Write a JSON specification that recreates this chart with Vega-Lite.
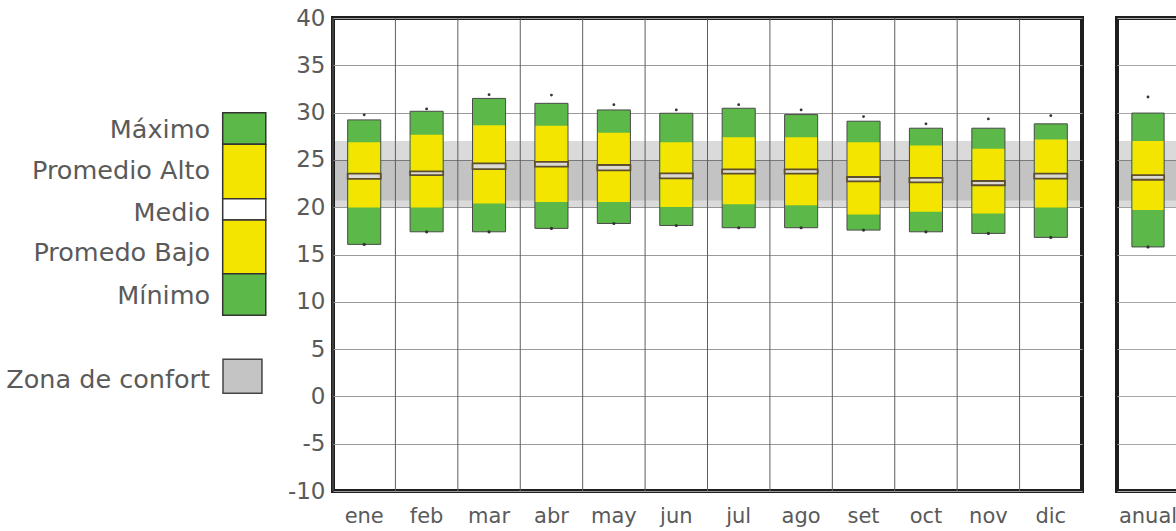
{
  "$schema": "https://vega.github.io/schema/vega-lite/v6.json",
  "background": "white",
  "padding": {"left": 5, "top": 5, "right": 0, "bottom": 0},
  "bounds": "flush",
  "spacing": 35,
  "config": {
    "view": {"stroke": "#1e1e1e", "strokeWidth": 4},
    "font": "DejaVu Sans",
    "axis": {"labelFont": "DejaVu Sans", "labelColor": "#5a5a5a", "domain": false, "ticks": false}
  },
  "datasets": {
    "meses": [
      {"mes": "ene", "min": 16.07, "pbajo": 19.97, "medlo": 23.0, "medhi": 23.55, "palto": 26.87, "max": 29.23, "absmax": 29.76},
      {"mes": "feb", "min": 17.4, "pbajo": 19.97, "medlo": 23.4, "medhi": 23.79, "palto": 27.65, "max": 30.14, "absmax": 30.39},
      {"mes": "mar", "min": 17.4, "pbajo": 20.39, "medlo": 24.03, "medhi": 24.63, "palto": 28.67, "max": 31.5, "absmax": 31.9},
      {"mes": "abr", "min": 17.76, "pbajo": 20.56, "medlo": 24.28, "medhi": 24.8, "palto": 28.6, "max": 30.98, "absmax": 31.85},
      {"mes": "may", "min": 18.28, "pbajo": 20.56, "medlo": 23.9, "medhi": 24.46, "palto": 27.86, "max": 30.28, "absmax": 30.84},
      {"mes": "jun", "min": 18.07, "pbajo": 20.03, "medlo": 23.05, "medhi": 23.58, "palto": 26.87, "max": 29.93, "absmax": 30.28},
      {"mes": "jul", "min": 17.83, "pbajo": 20.32, "medlo": 23.55, "medhi": 24.0, "palto": 27.4, "max": 30.46, "absmax": 30.84},
      {"mes": "ago", "min": 17.83, "pbajo": 20.21, "medlo": 23.55, "medhi": 24.0, "palto": 27.4, "max": 29.79, "absmax": 30.28},
      {"mes": "set", "min": 17.58, "pbajo": 19.23, "medlo": 22.74, "medhi": 23.19, "palto": 26.87, "max": 29.09, "absmax": 29.58},
      {"mes": "oct", "min": 17.4, "pbajo": 19.51, "medlo": 22.63, "medhi": 23.09, "palto": 26.53, "max": 28.35, "absmax": 28.81},
      {"mes": "nov", "min": 17.23, "pbajo": 19.33, "medlo": 22.32, "medhi": 22.77, "palto": 26.18, "max": 28.35, "absmax": 29.33},
      {"mes": "dic", "min": 16.81, "pbajo": 19.97, "medlo": 23.02, "medhi": 23.55, "palto": 27.16, "max": 28.81, "absmax": 29.68}
    ],
    "anual": [
      {"mes": "anual", "min": 15.8, "pbajo": 19.7, "medlo": 22.9, "medhi": 23.4, "palto": 27.0, "max": 29.95, "absmax": 31.65}
    ],
    "zona": [
      {"nivel": "amplia", "lo": 20.0, "hi": 27.0},
      {"nivel": "estricta", "lo": 20.7, "hi": 24.95}
    ],
    "leyenda": [
      {"parte": "max", "etiqueta": "Máximo", "desde": 26.65, "hasta": 29.99, "base": 27.35},
      {"parte": "alto", "etiqueta": "Promedio Alto", "desde": 20.9, "hasta": 26.65, "base": 22.98},
      {"parte": "medio", "etiqueta": "Medio", "desde": 18.65, "hasta": 20.9, "base": 18.54},
      {"parte": "bajo", "etiqueta": "Promedo Bajo", "desde": 12.97, "hasta": 18.65, "base": 14.31},
      {"parte": "min", "etiqueta": "Mínimo", "desde": 8.57, "hasta": 12.97, "base": 9.77},
      {"parte": "zona", "etiqueta": "Zona de confort", "desde": 0.33, "hasta": 3.92, "base": 0.92}
    ]
  },
  "hconcat": [
    {
      "width": 293,
      "height": 473,
      "view": {"stroke": null},
      "data": {"name": "leyenda"},
      "layer": [
        {
          "transform": [{"filter": "datum.parte != 'zona'"}],
          "mark": {"type": "rect", "stroke": "#333333", "strokeWidth": 1.5},
          "encoding": {
            "x": {"datum": 0.743, "type": "quantitative", "scale": {"domain": [0, 1], "nice": false, "zero": false}, "axis": null},
            "x2": {"datum": 0.89},
            "y": {"field": "desde", "type": "quantitative", "scale": {"domain": [-10, 40], "nice": false, "zero": false}, "axis": null},
            "y2": {"field": "hasta"},
            "color": {"field": "parte", "type": "nominal", "legend": null,
              "scale": {"domain": ["max", "alto", "medio", "bajo", "min", "zona"], "range": ["#5cb848", "#f3e500", "#ffffff", "#f3e500", "#5cb848", "#c4c4c4"]}}
          }
        },
        {
          "transform": [{"filter": "datum.parte == 'zona'"}],
          "mark": {"type": "rect", "stroke": "#444444", "strokeWidth": 1.5},
          "encoding": {
            "x": {"datum": 0.744, "type": "quantitative"},
            "x2": {"datum": 0.877},
            "y": {"field": "desde", "type": "quantitative"},
            "y2": {"field": "hasta"},
            "color": {"field": "parte", "type": "nominal", "legend": null}
          }
        },
        {
          "mark": {"type": "text", "align": "right", "baseline": "alphabetic", "fontSize": 25.5, "color": "#5a5a5a"},
          "encoding": {
            "x": {"datum": 0.70, "type": "quantitative"},
            "y": {"field": "base", "type": "quantitative"},
            "text": {"field": "etiqueta"}
          }
        }
      ]
    },
    {
      "width": 749,
      "height": 473,
      "layer": [
        {
          "data": {"name": "zona"},
          "transform": [{"filter": "datum.nivel == 'amplia'"}],
          "mark": {"type": "rect", "color": "#000000", "opacity": 0.145},
          "encoding": {
            "y": {"field": "lo", "type": "quantitative", "title": null,
              "scale": {"domain": [-10, 40], "nice": false, "zero": false},
              "axis": {"values": [-10, -5, 0, 5, 10, 15, 20, 25, 30, 35, 40], "labelExpr": "'' + datum.value", "grid": true, "gridColor": "#9a9a9a", "gridWidth": 1, "labelFontSize": 23, "labelPadding": 8, "labelColor": "#5a5a5a", "title": null}},
            "y2": {"field": "hi"}
          }
        },
        {
          "data": {"name": "zona"},
          "transform": [{"filter": "datum.nivel == 'estricta'"}],
          "mark": {"type": "rect", "color": "#000000", "opacity": 0.1},
          "encoding": {
            "y": {"field": "lo", "type": "quantitative", "title": null},
            "y2": {"field": "hi"}
          }
        },
        {
          "data": {"name": "meses"},
          "mark": {"type": "rule", "color": "#5e5e5e", "strokeWidth": 1},
          "encoding": {
            "x": {"field": "mes", "type": "ordinal", "sort": null, "bandPosition": 0, "title": null,
              "scale": {"paddingInner": 0, "paddingOuter": 0},
              "axis": {"labelAngle": 0, "labelFontSize": 21, "labelPadding": 14, "grid": false, "title": null}}
          }
        },
        {
          "data": {"name": "meses"},
          "mark": {"type": "bar", "color": "#5cb848", "stroke": "#4a4a4a", "strokeWidth": 1, "width": {"band": 0.53}},
          "encoding": {
            "x": {"field": "mes", "type": "ordinal", "sort": null, "title": null},
            "y": {"field": "min", "type": "quantitative", "title": null},
            "y2": {"field": "max"}
          }
        },
        {
          "data": {"name": "meses"},
          "mark": {"type": "bar", "color": "#f3e500", "width": {"band": 0.51}},
          "encoding": {
            "x": {"field": "mes", "type": "ordinal", "sort": null, "title": null},
            "y": {"field": "pbajo", "type": "quantitative", "title": null},
            "y2": {"field": "palto"}
          }
        },
        {
          "data": {"name": "meses"},
          "mark": {"type": "bar", "color": "#dcdad3", "stroke": "#5e4f2c", "strokeWidth": 1.8, "width": {"band": 0.53}},
          "encoding": {
            "x": {"field": "mes", "type": "ordinal", "sort": null, "title": null},
            "y": {"field": "medlo", "type": "quantitative", "title": null},
            "y2": {"field": "medhi"}
          }
        },
        {
          "data": {"name": "meses"},
          "mark": {"type": "point", "filled": true, "color": "#333333", "size": 8, "opacity": 1},
          "encoding": {
            "x": {"field": "mes", "type": "ordinal", "sort": null, "title": null},
            "y": {"field": "absmax", "type": "quantitative", "title": null}
          }
        },
        {
          "data": {"name": "meses"},
          "mark": {"type": "point", "filled": true, "color": "#333333", "size": 10, "opacity": 1},
          "encoding": {
            "x": {"field": "mes", "type": "ordinal", "sort": null, "title": null},
            "y": {"field": "min", "type": "quantitative", "title": null}
          }
        }
      ]
    },
    {
      "width": 62,
      "height": 473,
      "layer": [
        {
          "data": {"name": "zona"},
          "transform": [{"filter": "datum.nivel == 'amplia'"}],
          "mark": {"type": "rect", "color": "#000000", "opacity": 0.145},
          "encoding": {
            "y": {"field": "lo", "type": "quantitative", "title": null,
              "scale": {"domain": [-10, 40], "nice": false, "zero": false},
              "axis": {"values": [-10, -5, 0, 5, 10, 15, 20, 25, 30, 35, 40], "grid": true, "gridColor": "#a8a8a8", "gridWidth": 1, "labels": false, "title": null}},
            "y2": {"field": "hi"}
          }
        },
        {
          "data": {"name": "zona"},
          "transform": [{"filter": "datum.nivel == 'estricta'"}],
          "mark": {"type": "rect", "color": "#000000", "opacity": 0.1},
          "encoding": {
            "y": {"field": "lo", "type": "quantitative", "title": null},
            "y2": {"field": "hi"}
          }
        },
        {
          "data": {"name": "anual"},
          "mark": {"type": "bar", "color": "#5cb848", "stroke": "#4a4a4a", "strokeWidth": 1, "width": {"band": 0.52}},
          "encoding": {
            "x": {"field": "mes", "type": "ordinal", "title": null,
              "scale": {"paddingInner": 0, "paddingOuter": 0},
              "axis": {"labelAngle": 0, "labelFontSize": 21, "labelPadding": 14, "grid": false, "title": null}},
            "y": {"field": "min", "type": "quantitative", "title": null},
            "y2": {"field": "max"}
          }
        },
        {
          "data": {"name": "anual"},
          "mark": {"type": "bar", "color": "#f3e500", "width": {"band": 0.5}},
          "encoding": {
            "x": {"field": "mes", "type": "ordinal", "title": null},
            "y": {"field": "pbajo", "type": "quantitative", "title": null},
            "y2": {"field": "palto"}
          }
        },
        {
          "data": {"name": "anual"},
          "mark": {"type": "bar", "color": "#dcdad3", "stroke": "#5e4f2c", "strokeWidth": 1.8, "width": {"band": 0.52}},
          "encoding": {
            "x": {"field": "mes", "type": "ordinal", "title": null},
            "y": {"field": "medlo", "type": "quantitative", "title": null},
            "y2": {"field": "medhi"}
          }
        },
        {
          "data": {"name": "anual"},
          "mark": {"type": "point", "filled": true, "color": "#333333", "size": 8, "opacity": 1},
          "encoding": {
            "x": {"field": "mes", "type": "ordinal", "title": null},
            "y": {"field": "absmax", "type": "quantitative", "title": null}
          }
        },
        {
          "data": {"name": "anual"},
          "mark": {"type": "point", "filled": true, "color": "#333333", "size": 10, "opacity": 1},
          "encoding": {
            "x": {"field": "mes", "type": "ordinal", "title": null},
            "y": {"field": "min", "type": "quantitative", "title": null}
          }
        }
      ]
    }
  ]
}
